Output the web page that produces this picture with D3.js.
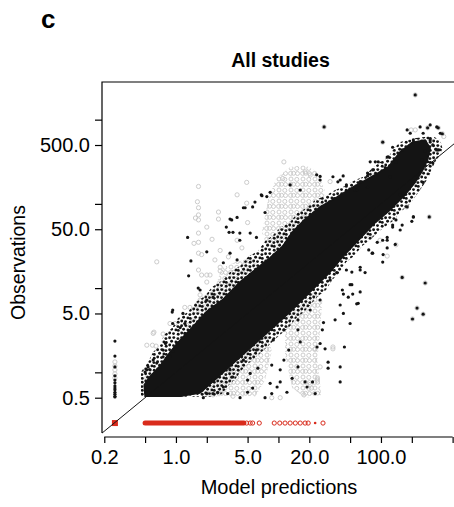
<!DOCTYPE html>
<html>
<head>
<meta charset="utf-8">
<script src="https://cdn.jsdelivr.net/npm/d3@7"></script>
<style>
  body { margin: 0; background: #fff; }
  svg { display: block; font-family: "Liberation Sans", Arial, Helvetica, sans-serif; }
</style>
</head>
<body>
<svg id="chart" width="454" height="507"></svg>
<script>
// Axis ticks (R style: every tick drawn, only some labelled)
const xTicks = [0.2, 0.5, 1, 2, 5, 10, 20, 50, 100, 200, 500]
const xTickLabels = ['0.2', '', '1.0', '', '5.0', '', '20.0', '', '100.0', '', '']
const yTicks = [0.5, 1, 5, 10, 50, 100, 500, 1000]
const yTickLabels = ['0.5', '', '5.0', '', '50.0', '', '500.0', '']

// Outline of the solid black cloud [prediction, observation]
const blackCore = [
  [0.50, 0.52], [0.49, 0.71], [0.56, 0.90], [0.70, 1.19], [0.875, 1.74], [1.10, 2.42],
  [1.48, 3.55], [2.0, 5.3], [2.9, 7.4], [4.2, 11.8], [6.1, 17], [8.3, 23], [11, 31.5],
  [13.6, 46], [17.7, 64], [25.5, 92], [37, 120], [53, 158], [78, 205], [118, 275],
  [154, 415], [200, 535], [270, 574], [302, 460], [285, 333], [250, 240], [216, 180],
  [172, 128], [123, 85], [88, 60], [63, 39], [45, 25.5], [32, 15.6], [20.4, 9.0],
  [13, 5.2], [7.8, 2.95], [4.2, 1.5], [2.4, 0.81], [1.72, 0.57], [1.1, 0.52]
]

// Outline of the looser band of black points around it
const blackFringe = [
  [0.456, 0.655], [0.456, 1.01], [0.535, 1.33], [0.60, 1.74], [0.70, 2.11], [0.763, 2.78],
  [0.915, 3.37], [1.05, 4.42], [1.31, 5.21], [1.565, 6.85], [1.92, 8.07], [2.25, 10.3],
  [2.81, 12.2], [3.37, 15.5], [4.22, 18.3], [5.06, 23.5], [6.33, 27.6], [7.41, 36.3],
  [8.67, 41.6], [10.4, 51.9], [13.0, 61.1], [15.3, 78], [18.6, 89.5], [22.8, 111],
  [28.5, 124], [35.7, 146], [44.8, 163], [56, 192], [70.2, 215], [82, 267], [98.2, 315],
  [118, 361], [135, 461], [154, 543], [184, 574], [221, 607], [264, 624], [316, 641],
  [379, 574], [397, 461], [379, 381],
  [346, 333], [316, 267], [289, 203], [241, 146], [211, 117], [184, 94.5],
  [154, 80], [135, 64.5], [112, 54.7], [94, 46.5], [78.5, 37.3], [65.6, 31.7], [54.7, 24.1],
  [45.8, 20.4], [40, 15.5], [33.4, 12.5], [29.1, 9.5], [24.4, 8.07], [20.9, 6.49],
  [17.8, 5.21], [14.9, 4.42], [13.0, 3.55], [10.9, 2.94], [9.07, 2.42], [7.58, 1.95],
  [6.33, 1.61], [5.29, 1.33], [4.41, 1.07], [3.86, 0.855], [3.22, 0.69], [2.81, 0.555],
  [2.41, 0.51], [0.456, 0.51]
]

// Areas packed with grey (other study) circles
const greyPatches = [
  [[6.9, 46.5], [7.9, 111], [9.5, 200], [13, 275], [18.2, 290], [23.6, 240], [28.5, 146],
   [26.8, 93], [17.7, 64.5], [13, 46.5], [10.4, 32.6], [7.9, 28.4]],
  [[1.37, 4.8], [1.72, 7.6], [2.41, 10.1], [2.8, 17.3], [3.77, 20.3], [5.3, 22.7],
   [6.4, 18.8], [4.22, 11.8], [2.9, 7.4], [2.0, 5.3]],
  [[1.72, 0.52], [2.25, 0.71], [4.22, 1.5], [7.8, 2.95], [8.6, 1.76], [7.4, 0.81], [5.9, 0.51]],
  [[11.6, 4.4], [16.3, 6.3], [22.8, 9.5], [26.8, 7.2], [25.5, 3.2], [24, 1.4], [26.2, 0.54],
   [18.2, 0.5], [13.6, 0.65], [11.6, 1.61]]
]

// Scattered black points outside the dense cloud
const blackPts = [
  [1.30, 40], [1.4, 21], [1.33, 14], [1.65, 10], [2.0, 27], [3.37, 66], [3.95, 69], [3.3, 46],
  [4.2, 45], [4.73, 90], [5.9, 105], [6.8, 128], [7.7, 122], [7.4, 79],
  [0.93, 5.5], [1.17, 5.0], [0.93, 3.8], [1.10, 3.4], [0.75, 1.84], [0.875, 1.55], [0.70, 1.16],
  [0.56, 1.07], [1.72, 9.5], [2.0, 7.2], [2.3, 7.8], [3.37, 26], [2.9, 20], [3.95, 21.6],
  [78.5, 316], [88, 316], [94, 316], [115, 360], [130, 470], [161, 437], [110, 270], [123, 210],
  [74, 232], [62.7, 184], [42.8, 215], [38, 183], [25.5, 212], [74, 157], [56, 146],
  [207, 574], [258, 690], [270, 425], [250, 333], [320, 306], [258, 180],
  [207, 70], [200, 62], [161, 56], [130, 56], [138, 33], [115, 37], [105, 25], [115, 30],
  [92, 35], [82, 26], [76, 28.4], [62.7, 16.4], [52, 15.5], [50, 11], [53, 8.5], [60, 6.6],
  [48, 7.8], [42, 9.5], [40, 6.3], [50, 3.8], [35.7, 4.2], [44, 2.0], [40, 1.16], [40, 0.77],
  [30.5, 1.32], [30.5, 1.12], [28.5, 1.9], [26.8, 3.2], [27.5, 3.9], [22.8, 0.56], [19, 0.67],
  [21.5, 0.77], [18.2, 0.77], [23.8, 2.0], [25.5, 2.2], [16.3, 2.3], [15.5, 3.2],
  [5.0, 0.81], [4.22, 0.50], [5.0, 0.58], [5.6, 0.65], [7.4, 0.50], [8.6, 0.56], [8.3, 0.74],
  [9.7, 0.67], [10.4, 0.77], [12.1, 0.58], [13.6, 0.85], [15.5, 1.16], [3.2, 0.56], [2.9, 0.67],
  [2.3, 0.56], [1.85, 0.50], [3.6, 0.88], [6.3, 1.12], [5.3, 0.97], [8.6, 1.22], [11.3, 1.40],
  [12.6, 1.84], [10.4, 1.07], [0.65, 1.29], [0.79, 2.2], [0.92, 5.2], [1.22, 3.8], [0.52, 1.07],
  [2.0, 0.56], [2.55, 0.58],
  // upper edge of the cloud
  [6.9, 125], [8.3, 137], [5.6, 92], [4.55, 90], [3.5, 64.5], [3.1, 53], [3.6, 46], [5.3, 45],
  [4.2, 37], [6.1, 40], [23.6, 221], [34, 210], [40, 192], [46, 168], [25.5, 192], [13, 168],
  [16.3, 146], [58, 146], [74, 215], [83, 253], [118, 361], [140, 315], [180, 755], [193, 690],
  [241, 820], [302, 865], [350, 820], [379, 690], [320, 501], [362, 437],
  // lower edge of the cloud
  [154, 128], [180, 92], [207, 70], [140, 64.5], [130, 53], [154, 49], [104, 37], [115, 40],
  [83, 26], [104, 20.4], [62.7, 17.7], [70, 15.3],
  [0.5, 1.01], [0.535, 1.16], [0.60, 1.40], [0.75, 1.53], [0.93, 1.77], [1.02, 2.2], [1.22, 2.9],
  [2.3, 0.81], [3.37, 1.07], [4.55, 1.40], [6.1, 1.84], [8.9, 2.42], [11.3, 3.19], [15.5, 4.19],
  [20.4, 5.5], [25.5, 7.23], [31.9, 12.5], [37, 15.3], [46, 16.4], [43, 8.5], [52, 11],
  [62.7, 9.0], [58, 6.5], [43, 5.0]
]

// Black points that sit on a grey circle too (outliers, upper cluster)
const haloPts = [
  [216, 1965], [27.9, 820], [104, 540], [161, 13.4], [270, 11.5], [225, 5.8], [258, 4.9],
  [203, 4.3], [296, 70], [285, 800], [362, 800], [397, 680], [302, 574], [350, 437]
]

// Scattered grey open circles
const greyPts = [
  [1.66, 161], [1.62, 106], [1.66, 90], [1.66, 74], [1.66, 64.5], [1.55, 68], [2.6, 80],
  [2.6, 66], [2.0, 53], [1.66, 45], [1.66, 35], [1.5, 34], [2.25, 38], [1.66, 26], [0.65, 20.5],
  [2.7, 28], [1.66, 16.4], [2.0, 14.3], [2.4, 21.6], [2.7, 16], [4.9, 180], [3.95, 128],
  [1.78, 25], [2.15, 14.3], [3.25, 23.5], [3.95, 37], [4.4, 30], [4.9, 102], [5.0, 60],
  [0.6, 2.9], [0.75, 2.85], [0.52, 2.1], [0.64, 2.05], [0.875, 3.8], [1.37, 5.9], [1.6, 6.3],
  [1.22, 5.9], [1.72, 8.3], [11, 200], [11.3, 315], [18.2, 240], [20.4, 220], [31.9, 184],
  [83, 240], [197, 755], [216, 755], [410, 630], [178, 92], [140, 32.6], [115, 24], [98, 37],
  [78, 40], [34, 2.0], [24, 0.81], [21, 0.65], [17.7, 0.54], [34, 1.9], [25.5, 1.16], [24, 0.86],
  [20.4, 0.72], [10.4, 0.50], [3.6, 0.52], [2.3, 0.54], [8.6, 0.50], [22.8, 1.9],
  [0.61, 3.0], [0.59, 2.1], [0.52, 0.86], [0.98, 3.8], [1.27, 3.65], [1.48, 4.2], [1.72, 7.2],
  [1.78, 14.3], [2.0, 11.8], [2.7, 17.7]
]

// Column of points at the lowest prediction
const stripX = 0.254
const stripBlackY = [2.35, 1.56, 1.16, 0.91, 0.81, 0.75, 0.69, 0.65, 0.62, 0.58, 0.55, 0.52, 0.51]
const stripGreyY = [1.33, 1.19, 1.07, 0.96, 0.86]

// Zero observations drawn in red along the bottom
const redY = 0.25
const redBand = [0.50, 4.6]
const redCircles = [4.9, 5.3, 5.6, 6.5, 9.1, 10.3, 11.6, 13, 14.6, 16.3, 18.2, 19.5, 27.2]
const redDots = [22.8]
const redSquareX = 0.254

const svg = d3.select('#chart')

const x = d3.scaleLog().domain([0.19, 2799]).range([102, 529.3])
const y = d3.scaleLog().domain([0.1905, 2799]).range([433, 82])

const BLACK = '#141414'
const GREY = '#c6c6c6'
const RED = '#d92b1c'

const defs = svg.append('defs')
defs.append('clipPath').attr('id', 'plot-clip')
  .append('rect').attr('x', 102).attr('y', 82).attr('width', 428).attr('height', 352)

// texture of overlapping open grey circles
const ringTile = defs.append('pattern')
  .attr('id', 'grey-rings')
  .attr('patternUnits', 'userSpaceOnUse')
  .attr('width', 12).attr('height', 11)
ringTile.selectAll('circle')
  .data([[3, 3], [8.8, 3.4], [5.6, 8.3], [9.5, 8.5], [2.6, 8.4]])
  .enter().append('circle')
  .attr('cx', d => d[0]).attr('cy', d => d[1]).attr('r', 2.0)
  .attr('fill', 'none').attr('stroke', GREY).attr('stroke-width', 0.9)

// texture of loosely packed black points
const dotTile = defs.append('pattern')
  .attr('id', 'black-dots')
  .attr('patternUnits', 'userSpaceOnUse')
  .attr('width', 12).attr('height', 12)
dotTile.selectAll('circle')
  .data([[1.6, 1.8], [5.8, 1.6], [9.9, 2.6], [3.6, 5.2], [7.9, 5.9], [10.3, 6.4],
         [1.7, 9.0], [5.5, 9.6], [10.2, 10.3]])
  .enter().append('circle')
  .attr('cx', d => d[0]).attr('cy', d => d[1]).attr('r', 1.45)
  .attr('fill', BLACK)

const g = svg.append('g').attr('clip-path', 'url(#plot-clip)')
const area = d3.line().x(d => x(d[0])).y(d => y(d[1])).curve(d3.curveLinearClosed)

// grey patches
g.append('g').selectAll('path')
  .data(greyPatches)
  .enter()
  .append('path')
  .attr('d', area)
  .attr('fill', 'url(#grey-rings)')

// grey circles
const greyAll = greyPts.concat(stripGreyY.map(v => [stripX, v])).concat(haloPts)
g.append('g').selectAll('circle')
  .data(greyAll)
  .enter()
  .append('circle')
  .attr('cx', d => x(d[0]))
  .attr('cy', d => y(d[1]))
  .attr('r', 2.1)
  .attr('fill', 'none')
  .attr('stroke', GREY)
  .attr('stroke-width', 0.9)

// loose black fringe, then the solid cloud
g.append('path')
  .datum(blackFringe)
  .attr('d', area)
  .attr('fill', 'url(#black-dots)')

g.append('path')
  .datum(blackCore)
  .attr('d', area)
  .attr('fill', BLACK)
  .attr('stroke', BLACK)
  .attr('stroke-width', 1.5)
  .attr('stroke-linejoin', 'round')

// black points
const blackAll = blackPts.concat(haloPts).concat(stripBlackY.map(v => [stripX, v]))
g.append('g').selectAll('circle')
  .data(blackAll)
  .enter()
  .append('circle')
  .attr('cx', d => x(d[0]))
  .attr('cy', d => y(d[1]))
  .attr('r', 1.6)
  .attr('fill', BLACK)

// red zero row
g.append('line')
  .attr('x1', x(redBand[0])).attr('x2', x(redBand[1]))
  .attr('y1', y(redY)).attr('y2', y(redY))
  .attr('stroke', RED).attr('stroke-width', 5).attr('stroke-linecap', 'round')

g.append('g').selectAll('circle')
  .data(redCircles)
  .enter()
  .append('circle')
  .attr('cx', d => x(d))
  .attr('cy', y(redY))
  .attr('r', 2.1)
  .attr('fill', 'none')
  .attr('stroke', RED)
  .attr('stroke-width', 1)

g.append('g').selectAll('circle')
  .data(redDots)
  .enter()
  .append('circle')
  .attr('cx', d => x(d))
  .attr('cy', y(redY))
  .attr('r', 1.3)
  .attr('fill', RED)

g.append('rect')
  .attr('x', x(redSquareX) - 3).attr('y', y(redY) - 3)
  .attr('width', 6).attr('height', 6)
  .attr('fill', RED)

// 1:1 line
g.append('line')
  .attr('x1', x(0.19)).attr('y1', y(0.19))
  .attr('x2', x(2799)).attr('y2', y(2799))
  .attr('stroke', BLACK).attr('stroke-width', 1)

// box: top and left
svg.append('path')
  .attr('d', 'M102,433V82H454')
  .attr('fill', 'none').attr('stroke', '#000').attr('stroke-width', 1.2)

// x axis
const xAxis = svg.append('g')
  .attr('transform', 'translate(0,437)')
  .call(d3.axisBottom(x).tickValues(xTicks)
    .tickFormat((d, i) => xTickLabels[i]).tickSize(6).tickSizeOuter(0).tickPadding(7))
xAxis.select('.domain').remove()
xAxis.append('line')
  .attr('x1', x(xTicks[0])).attr('x2', x(xTicks[xTicks.length - 1]))
  .attr('stroke', '#000').attr('stroke-width', 1.2)
xAxis.selectAll('.tick line').attr('stroke-width', 1.2)
xAxis.selectAll('text')
  .attr('font-size', 20)
  .attr('font-family', '"Liberation Sans", Arial, sans-serif')
  .attr('fill', '#000')

// y axis
const yAxis = svg.append('g')
  .attr('transform', 'translate(102,0)')
  .call(d3.axisLeft(y).tickValues(yTicks)
    .tickFormat((d, i) => yTickLabels[i]).tickSize(7).tickSizeOuter(0).tickPadding(5))
yAxis.select('.domain').remove()
yAxis.selectAll('.tick line').attr('stroke-width', 1.2)
yAxis.selectAll('text')
  .attr('font-size', 20)
  .attr('font-family', '"Liberation Sans", Arial, sans-serif')
  .attr('fill', '#000')

// titles
svg.append('text')
  .attr('x', 41).attr('y', 28)
  .attr('font-size', 26).attr('font-weight', 'bold')
  .text('c')

svg.append('text')
  .attr('x', 280.5).attr('y', 67)
  .attr('text-anchor', 'middle')
  .attr('font-size', 19.5).attr('font-weight', 'bold')
  .text('All studies')

svg.append('text')
  .attr('x', 279).attr('y', 494)
  .attr('text-anchor', 'middle')
  .attr('font-size', 20)
  .text('Model predictions')

svg.append('text')
  .attr('transform', 'translate(25,262.5) rotate(-90)')
  .attr('text-anchor', 'middle')
  .attr('font-size', 19.5)
  .text('Observations')
</script>
</body>
</html>
